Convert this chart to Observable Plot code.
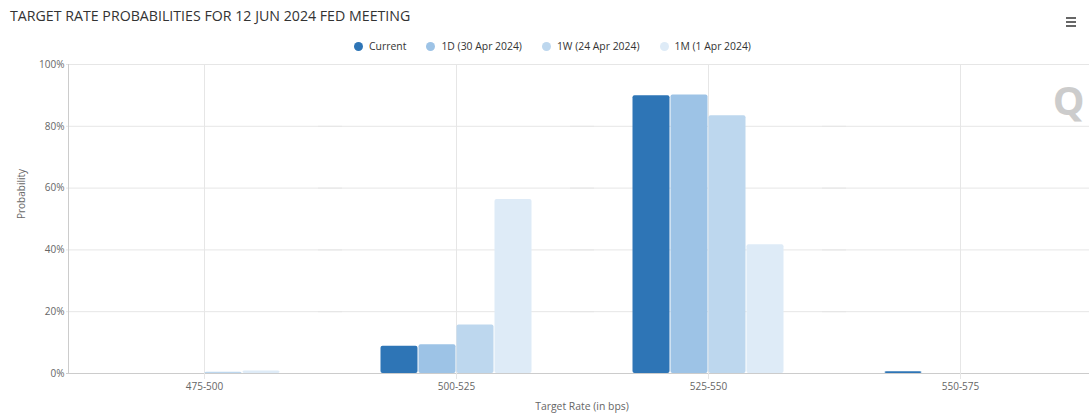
<!DOCTYPE html>
<html>
<head>
<meta charset="utf-8">
<script src="https://cdn.jsdelivr.net/npm/d3@7"></script>
<script src="https://cdn.jsdelivr.net/npm/@observablehq/plot@0.6"></script>
<style>
  html, body { margin: 0; padding: 0; background: #fff; }
  body { width: 1089px; height: 413px; position: relative; overflow: hidden; font-family: "Open Sans", sans-serif; }
  #title { position: absolute; left: 10px; top: 6px; font-size: 14.2px; color: #333; white-space: nowrap; }
  #menu { position: absolute; left: 1066px; top: 17px; width: 10px; }
  #menu div { height: 2px; background: #666; margin-bottom: 2px; }
  #legend { position: absolute; top: 39px; left: 0; width: 1105px; display: flex; justify-content: center; font-size: 10.4px; color: #333; }
  .item { display: flex; align-items: center; margin: 0 10px; white-space: nowrap; }
  .dot { width: 9px; height: 9px; border-radius: 50%; margin-right: 6px; }
  #chart { position: absolute; top: 55px; left: 0; }
  #xlabel { position: absolute; top: 399px; left: 0; width: 1164px; text-align: center; font-size: 10.4px; color: #666; }
</style>
</head>
<body>
<div id="title"></div>
<div id="menu"><div></div><div></div><div></div></div>
<div id="legend"></div>
<div id="chart"></div>
<div id="xlabel"></div>
<script>
const titleText = "TARGET RATE PROBABILITIES FOR 12 JUN 2024 FED MEETING";
const categories = ["475-500", "500-525", "525-550", "550-575"];
const series = ["Current", "1D (30 Apr 2024)", "1W (24 Apr 2024)", "1M (1 Apr 2024)"];
const colors = ["#2e75b6", "#9dc3e6", "#bdd7ee", "#deebf7"];
const current = [0, 8.8, 89.9, 0.6];
const oneDay = [0, 9.3, 90.1, 0];
const oneWeek = [0.4, 15.7, 83.4, 0];
const oneMonth = [0.8, 56.3, 41.7, 0];
const yTicks = [0, 20, 40, 60, 80, 100];
const xLabel = "Target Rate (in bps)";
const yLabel = "Probability";

const values = [current, oneDay, oneWeek, oneMonth];
const data = categories.flatMap((c, i) => series.map((s, j) => ({category: c, series: s, value: values[j][i]})));

document.getElementById("title").textContent = titleText;
document.getElementById("xlabel").textContent = xLabel;
const legend = document.getElementById("legend");
series.forEach((s, j) => {
  const it = document.createElement("div");
  it.className = "item";
  const d = document.createElement("div");
  d.className = "dot";
  d.style.background = colors[j];
  const t = document.createElement("span");
  t.textContent = s;
  it.appendChild(d); it.appendChild(t);
  legend.appendChild(it);
});

const chart = Plot.plot({
  width: 1089,
  height: 358,
  marginTop: 9,
  marginBottom: 40,
  marginLeft: 66,
  marginRight: 0,
  style: {fontFamily: "Open Sans, sans-serif", fontSize: "10px", color: "#666", background: "#fff"},
  fx: {domain: categories, paddingInner: 0, paddingOuter: 0.026, align: 0.8, label: null, axis: null},
  x: {domain: series, paddingInner: 0, paddingOuter: 1.3, axis: null},
  y: {domain: [0, 100], axis: null},
  color: {domain: series, range: colors},
  marks: [
    Plot.ruleY(yTicks.slice(1), {stroke: "#e6e6e6", insetLeft: -12, insetRight: -12}),
    Plot.gridFx({stroke: "#e6e6e6", strokeOpacity: 1}),
    Plot.barY(data, {fx: "category", x: "series", y: "value", fill: "series", insetLeft: 0.5, insetRight: 0.5, rx: 2}),
    Plot.ruleY([0], {stroke: "#cccccc", insetLeft: -12, insetRight: -12}),
    Plot.frame({anchor: "left", stroke: "#cccccc", facetAnchor: "left", dx: -10}),
    Plot.axisFx({anchor: "bottom", tickSize: 6, stroke: "#e6e6e6", fill: "#666", tickPadding: 3, label: null, fontSize: 10}),
    Plot.axisY(yTicks, {anchor: "left", tickFormat: d => d + "%", tickSize: 0, tickPadding: 14, label: null, fill: "#666", fontSize: 10}),
    Plot.text([yLabel], {frameAnchor: "left", rotate: -90, dx: -57, fill: "#666", fontSize: 10, facetAnchor: "left"}),
    Plot.text(["Q"], {frameAnchor: "top-right", textAnchor: "end", dx: -2, dy: 22, fill: "#cccccc", fontSize: 40, fontWeight: "bold", facetAnchor: "right"})
  ]
});
document.getElementById("chart").appendChild(chart);
</script>
</body>
</html>
